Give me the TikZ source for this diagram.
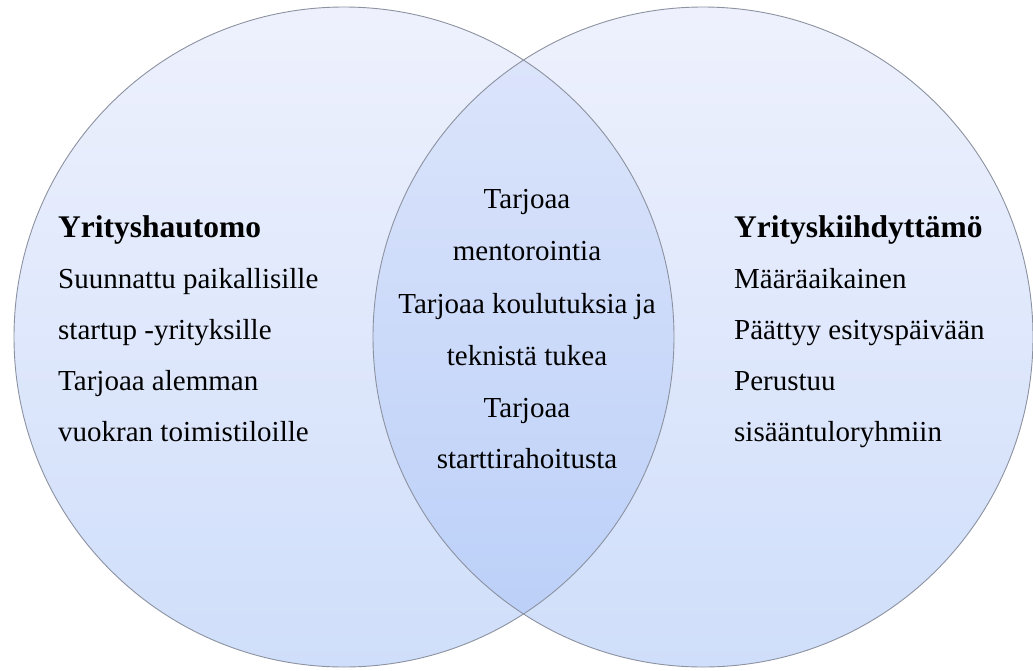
\documentclass[tikz,border=0pt]{standalone}
\usepackage{fontspec}
\setmainfont{Liberation Serif}
\definecolor{outtop}{RGB}{238,241,253}
\definecolor{outbot}{RGB}{207,222,250}
\definecolor{lenstop}{RGB}{222,230,251}
\definecolor{lensbot}{RGB}{185,206,248}
\definecolor{rim}{RGB}{140,146,160}
\tikzset{
  rimline/.style={draw=rim, line width=0.9pt},
  bodytext/.style={font=\fontsize{29}{51}\selectfont, inner sep=0pt, anchor=base west},
  headtext/.style={font=\fontsize{31.5}{51}\selectfont\bfseries, inner sep=0pt, anchor=base west},
  midtext/.style={font=\fontsize{29}{51}\selectfont, inner sep=0pt, anchor=base}
}
\begin{document}
\begin{tikzpicture}[x=1pt,y=-1pt]
\useasboundingbox (0,0) rectangle (1033,670);
% circle centres
\coordinate (cl) at (344,337);
\coordinate (cr) at (703,337);
% the two sets
\shade[top color=outtop, bottom color=outbot] (cl) circle[radius=330];
\shade[top color=outtop, bottom color=outbot] (cr) circle[radius=330];
% overlap
\begin{scope}
  \clip (cl) circle[radius=330];
  \shade[top color=lenstop, bottom color=lensbot] (cr) circle[radius=330];
\end{scope}
\draw[rimline] (cl) circle[radius=330];
\draw[rimline] (cr) circle[radius=330];
% left set
\node[headtext] (l0) at (58,237) {Yrityshautomo};
\node[bodytext] (l1) at (58,288) {Suunnattu paikallisille};
\node[bodytext] (l2) at (58,339) {startup -yrityksille};
\node[bodytext] (l3) at (58,390) {Tarjoaa alemman};
\node[bodytext] (l4) at (58,441) {vuokran toimistiloille};
% right set
\node[headtext] (r0) at (734,237) {Yrityskiihdyttämö};
\node[bodytext] (r1) at (734,288) {Määräaikainen};
\node[bodytext] (r2) at (734,339) {Päättyy esityspäivään};
\node[bodytext] (r3) at (734,390) {Perustuu};
\node[bodytext] (r4) at (734,441) {sisääntuloryhmiin};
% overlap
\node[midtext] (m0) at (527,208) {Tarjoaa};
\node[midtext] (m1) at (527,260) {mentorointia};
\node[midtext] (m2) at (527,313) {Tarjoaa koulutuksia ja};
\node[midtext] (m3) at (527,365) {teknistä tukea};
\node[midtext] (m4) at (527,417) {Tarjoaa};
\node[midtext] (m5) at (527,468) {starttirahoitusta};
\end{tikzpicture}
\end{document}
